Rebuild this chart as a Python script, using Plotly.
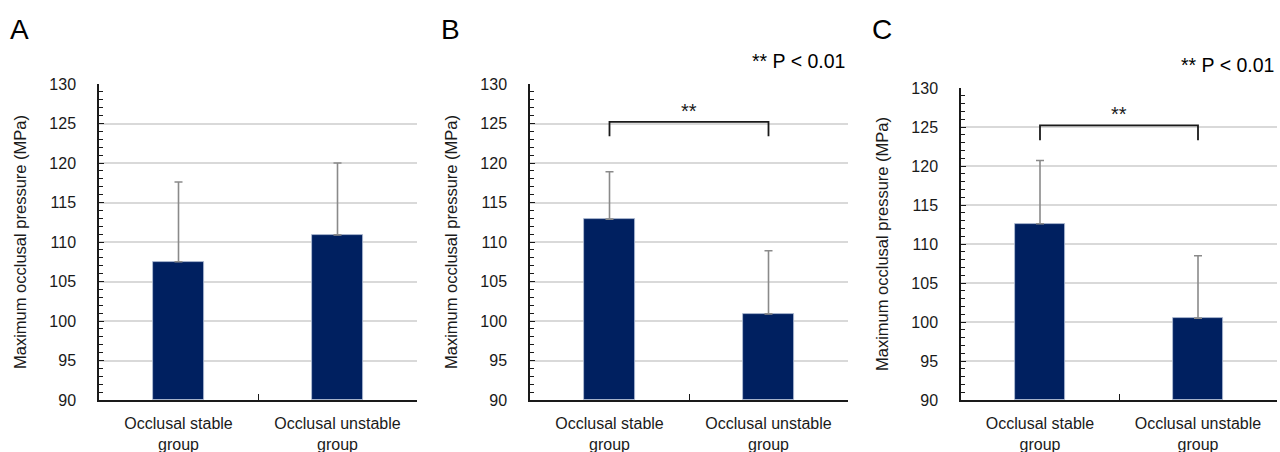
import plotly.graph_objects as go

categories = ["Occlusal stable<br>group", "Occlusal unstable<br>group"]
panel_labels = ["A", "B", "C"]
means_A = [107.5, 110.9]
sd_A = [10.1, 9.1]
means_B = [112.9, 100.9]
sd_B = [6.0, 8.0]
means_C = [112.6, 100.5]
sd_C = [8.1, 8.0]
bracket_B = [123.4, 125.2]
bracket_C = [123.3, 125.2]
sig_text = "**"
p_text = "** P < 0.01"
y_title = "Maximum occlusal pressure (MPa)"
y_range = [90, 130]

W, H = 1280, 452
FONT = "Liberation Sans, Arial, sans-serif"
TXT = "#1a1a1a"
BAR = "#002060"

# plot rectangles in pixels: (left, right, top, bottom)
rects = [(99, 417, 84, 400), (530, 848, 84, 400), (961, 1277, 88, 400)]

fig = go.Figure()
data = [(means_A, sd_A), (means_B, sd_B), (means_C, sd_C)]

for i, ((m, s), (l, r, t, b)) in enumerate(zip(data, rects)):
    idx = "" if i == 0 else str(i + 1)
    xa, ya = "x" + idx, "y" + idx
    fig.add_trace(go.Bar(
        x=categories, y=[v - y_range[0] for v in m], base=y_range[0],
        width=0.315,
        marker=dict(color=BAR, line=dict(color="#b4c0d6", width=0.8)),
        error_y=dict(type="data", array=s, arrayminus=[0, 0], symmetric=False,
                     color="#8a8a8a", thickness=1.6, width=4),
        xaxis=xa, yaxis=ya, showlegend=False, hoverinfo="skip",
    ))
    dom_x = [l / W, r / W]
    dom_y = [1 - b / H, 1 - t / H]
    fig.layout["xaxis" + idx] = dict(
        domain=dom_x, anchor=ya, type="category", automargin=False,
        showline=True, linecolor="#1a1a1a", linewidth=1.5,
        ticks="inside", tickson="boundaries", ticklen=6, tickwidth=1.3, tickcolor="#1a1a1a",
        tickfont=dict(family=FONT, size=16, color=TXT),
        showgrid=False, zeroline=False, fixedrange=True,
        ticklabelstandoff=8,
    )
    fig.layout["yaxis" + idx] = dict(
        domain=dom_y, anchor=xa, range=y_range, automargin=False,
        showline=True, linecolor="#1a1a1a", linewidth=1.5,
        ticks="inside", ticklen=5, tickwidth=1.3, tickcolor="#1a1a1a",
        dtick=5, tick0=90,
        minor=dict(ticks="inside", ticklen=4, dtick=1, tickcolor="#1a1a1a", tickwidth=1, showgrid=False),
        tickfont=dict(family=FONT, size=16, color=TXT),
        showgrid=True, gridcolor="#d9d9d9", gridwidth=1.5,
        zeroline=False, fixedrange=True, ticklabelstandoff=18,
    )
    # y title
    fig.add_annotation(
        text=y_title, textangle=-90, xref="paper", yref="paper",
        x=(l - 79) / W, y=1 - ((t + b) / 2) / H, showarrow=False,
        font=dict(family=FONT, size=16.5, color=TXT), xanchor="center", yanchor="middle",
    )
    # panel label
    fig.add_annotation(
        text=panel_labels[i], xref="paper", yref="paper",
        x=(l - 91) / W, y=1 - 30 / H, showarrow=False,
        font=dict(family=FONT, size=28, color="#000000"), xanchor="left", yanchor="middle",
    )

for i, br in [(1, bracket_B), (2, bracket_C)]:
    idx = str(i + 1)
    xa, ya = "x" + idx, "y" + idx
    fig.add_trace(go.Scatter(
        x=[categories[0], categories[0], categories[1], categories[1]],
        y=[br[0], br[1], br[1], br[0]],
        mode="lines", line=dict(color="#1a1a1a", width=1.8),
        xaxis=xa, yaxis=ya, showlegend=False, hoverinfo="skip",
    ))
    fig.add_annotation(
        text=sig_text, xref=xa, yref=ya, x=0.5, y=br[1], showarrow=False,
        yanchor="bottom", yshift=-2, font=dict(family=FONT, size=20, color=TXT),
    )
    l, r, t, b = rects[i]
    fig.add_annotation(
        text=p_text, xref="paper", yref="paper", x=(r - 1) / W, y=1 - (t - 23) / H,
        showarrow=False, xanchor="right", yanchor="middle",
        font=dict(family=FONT, size=19.5, color="#000000"),
    )

fig.update_layout(
    width=W, height=H, margin=dict(l=0, r=0, t=0, b=0, autoexpand=False),
    paper_bgcolor="white", plot_bgcolor="white", bargap=0,
)
fig.write_html("out.html")
